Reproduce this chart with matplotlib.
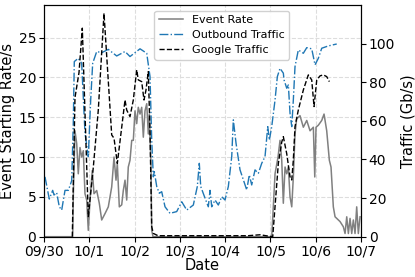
import matplotlib
matplotlib.use("Agg")
import matplotlib.pyplot as plt

# x positions in days since 09/30 00:00
tick_labels = ['09/30', '10/1', '10/2', '10/3', '10/4', '10/5', '10/6', '10/7']

out_t = [0.022, 0.117, 0.192, 0.221, 0.280, 0.338, 0.391, 0.464, 0.537, 0.612, 0.647, 0.669,
         0.757, 0.832, 0.905, 0.978, 1.031, 1.075, 1.164, 1.274, 1.420, 1.605, 1.789, 1.899,
         2.120, 2.268, 2.341, 2.378, 2.414, 2.436, 2.489, 2.546, 2.599, 2.672, 2.782, 2.930,
         3.041, 3.151, 3.297, 3.385, 3.429, 3.460, 3.555, 3.628, 3.666, 3.703, 3.776, 3.849,
         3.924, 3.997, 4.070, 4.145, 4.180, 4.240, 4.328, 4.401, 4.476, 4.533, 4.586, 4.659,
         4.732, 4.807, 4.880, 4.940, 4.975, 5.028, 5.101, 5.152, 5.211, 5.284, 5.300, 5.359,
         5.395, 5.432, 5.470, 5.505, 5.542, 5.615, 5.726, 5.801, 5.911, 5.984, 6.057, 6.132,
         6.278, 6.463]
out_v = [31, 19.5, 24, 21.6, 22.8, 15.5, 13.8, 24, 24, 29, 59, 90.7,
         92.4, 89.8, 53.7, 41.5, 70.8, 89.8, 95.9, 95.3, 97, 93.6, 95.9, 93.3,
         97.3, 95, 82.9, 50, 31, 33.7, 26, 22.5, 23.3, 15.5, 12.1, 13,
         18.1, 13.8, 16.4, 26, 38, 26, 20, 15.5, 24, 15.5, 19, 16.4,
         20.7, 19, 26, 41.5, 60.5, 48.4, 34.6, 29.5, 24.2, 32, 26.8, 34.6,
         32.8, 38, 41.5, 57, 50, 57, 70.8, 82.9, 87.2, 84.7, 81.2, 76.9,
         78.6, 63.9, 57, 70.8, 88.1, 96.7, 95, 97.9, 97.3, 89, 92.4, 97.6,
         98.8, 99.8]

goog_t = [0.625, 0.684, 0.773, 0.846, 0.978, 1.089, 1.199, 1.325, 1.495, 1.546, 1.619, 1.700,
          1.789, 1.826, 1.899, 1.972, 2.047, 2.082, 2.157, 2.208, 2.252, 2.303, 2.341, 2.378,
          2.414, 2.517, 3.000, 3.500, 4.000, 4.500, 4.770, 4.900, 5.050, 5.174, 5.249, 5.284,
          5.359, 5.432, 5.470, 5.505, 5.542, 5.615, 5.726, 5.836, 5.911, 5.962, 6.022, 6.095,
          6.167, 6.242, 6.300]
goog_v = [0, 72, 85, 108, 10.4, 36, 65.6, 115.7, 52.7, 51, 38, 53.6,
          70.8, 65.6, 62.2, 70.8, 86.4, 81.2, 80.3, 70.8, 76, 85.5, 53.7, 5.2,
          1.7, 0.5, 0.5, 0.5, 0.5, 0.5, 1.0, 0.5, 0, 38, 49, 51.8,
          43, 31, 29.4, 39.7, 57, 65.6, 76, 83.8, 81.2, 67.4, 81.2, 83.3,
          83.8, 82.9, 80.3]

ev_t = [0.0, 0.634, 0.647, 0.684, 0.722, 0.757, 0.795, 0.832, 0.868, 0.905, 0.943, 0.978,
        1.016, 1.066, 1.104, 1.164, 1.221, 1.274, 1.347, 1.420, 1.495, 1.546, 1.590, 1.619,
        1.663, 1.716, 1.751, 1.789, 1.826, 1.861, 1.899, 1.937, 1.972, 2.009, 2.047, 2.082,
        2.120, 2.157, 2.193, 2.230, 2.268, 2.303, 2.325, 2.363, 2.378, 2.407, 5.028, 5.101,
        5.167, 5.211, 5.249, 5.284, 5.322, 5.359, 5.395, 5.432, 5.470, 5.505, 5.542, 5.578,
        5.652, 5.726, 5.801, 5.874, 5.947, 5.978, 6.006, 6.057, 6.132, 6.183, 6.242, 6.300,
        6.337, 6.388, 6.426, 6.536, 6.609, 6.647, 6.684, 6.720, 6.757, 6.794, 6.830, 6.867,
        6.904, 6.940, 6.978]
ev_v = [0, 0, 5, 13.3, 11.7, 7.9, 11.2, 10, 10.8, 5.4, 4.6, 0.8,
        4.6, 8.3, 5.4, 5.8, 4.2, 2.1, 2.9, 3.75, 6.25, 10, 7.1, 9.2,
        3.75, 4, 5.8, 7.1, 4.6, 8.75, 9.6, 12.1, 12.1, 15.8, 14.2, 16.25,
        15.4, 16.25, 12.5, 15.8, 16.7, 12.9, 15.4, 8.75, 0.8, 0, 0, 7.9,
        10, 12.1, 9.6, 4.2, 8.75, 7.9, 8.75, 5, 3.75, 7.5, 12.9, 14.8,
        15.2, 13.75, 14.6, 13.3, 13.75, 7.5, 13.75, 14, 14.6, 15.4, 13.3, 9.6,
        8.75, 3.75, 2.5, 1.9, 1.25, 0.4, 2.5, 0.4, 2.3, 0.4, 2.1, 0.4,
        3.75, 0.4, 2.5]

fig = plt.figure(figsize=(4.15, 2.77), dpi=100)
ax = fig.add_axes([0.106, 0.1455, 0.764, 0.8365])
ax2 = ax.twinx()

l1, = ax.plot(ev_t, ev_v, color='gray', lw=1.1, label='Event Rate')
l2, = ax2.plot(out_t, out_v, color='#1f77b4', lw=1.0, ls='-.', label='Outbound Traffic')
l3, = ax2.plot(goog_t, goog_v, color='black', lw=1.0, ls='--', label='Google Traffic')

ax.set_xlim(0, 7)
ax.set_ylim(0, 29.1)
ax2.set_ylim(0, 120)
ax.set_xticks(range(len(tick_labels)))
ax.set_xticklabels(tick_labels)
ax.set_yticks([0, 5, 10, 15, 20, 25])
ax2.set_yticks([0, 20, 40, 60, 80, 100])
ax.grid(True, ls='--', color='#dddddd', lw=0.8)
ax.tick_params(labelsize=10, pad=2)
ax2.tick_params(labelsize=10, pad=2)
ax.set_xlabel('Date', fontsize=10.5, labelpad=0)
ax.set_ylabel('Event Starting Rate/s', fontsize=10.5, labelpad=3)
ax2.set_ylabel('Traffic (Gb/s)', fontsize=10.5, labelpad=4)

ax2.legend(handles=[l1, l2, l3], loc='upper left', bbox_to_anchor=(0.348, 0.975),
           borderaxespad=0, fontsize=8, framealpha=0.9, borderpad=0.4,
           labelspacing=0.45, handlelength=2.2, handletextpad=0.8)

fig.savefig('out.png', dpi=100)
